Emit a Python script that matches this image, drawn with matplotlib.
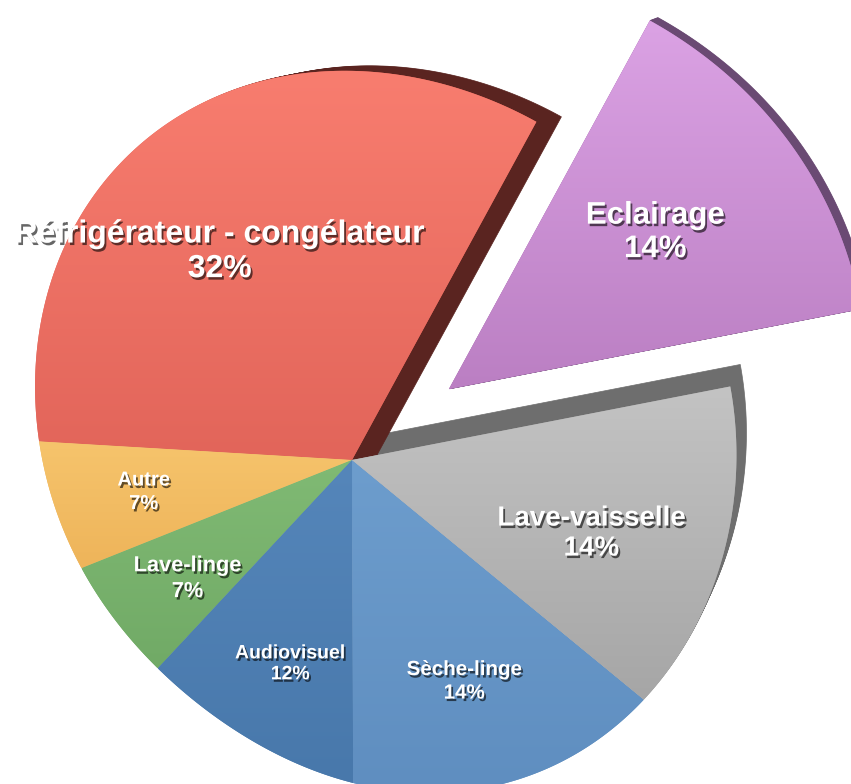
import numpy as np
import matplotlib.pyplot as plt
import matplotlib.patheffects as pe
from matplotlib.patches import Polygon
from matplotlib.colors import LinearSegmentedColormap

# Consommation électrique des appareils ménagers (camembert façon Keynote 3D)

labels = ['Eclairage', 'Réfrigérateur - congélateur', 'Autre', 'Lave-linge',
          'Audiovisuel', 'Sèche-linge', 'Lave-vaisselle']
values = [14, 32, 7, 7, 12, 14, 14]

# style : (couleur haut, couleur bas), côté sombre, décalage de profondeur
face_colors = [('#dba2e4', '#bb7fc3'), ('#f87d6f', '#e2655a'), ('#f6c46c', '#eeb45a'),
               ('#80ba74', '#71aa66'), ('#5586ba', '#4878ab'), ('#6d9dcd', '#5f8ec0'),
               ('#c3c3c3', '#a6a6a6')]
side_colors = ['#6a4a73', '#5a2420', None, None, None, None, '#6e6e6e']
depth = [(8, 3), (25, 5), None, None, None, None, (10, 22)]
explode = [120, 0, 0, 0, 0, 0, 0]
label_dist = [262, 246, 211, 203, 213, 245, 251]
label_shift = [(-5, -2), (-13, 7), (0, -2), (3, 4), (16, 6), (7, 0), (-4, 12)]
label_size = [22.5, 23, 14.5, 15.7, 14, 14.8, 20]
label_spacing = [1.15, 1.2, 1.3, 1.3, 1.3, 1.3, 1.2]

# géométrie en pixels (perspective approchée par un rayon variable)
cx, cy = 352, 460
start = 11
ctrl_ang = np.array([10, 66, 80, 108, 125, 141, 158, 166, 174, 184, 193, 200, 208,
                     229, 248, 275, 292, 309, 321, 334, 345, 355])
ctrl_r = np.array([385, 384, 390, 386, 380, 364, 337, 323, 315, 310, 300, 290, 287,
                   284, 298, 329, 351, 377, 375, 378, 386, 384])

# contour lissé : série de Fourier ajustée sur les rayons relevés
n_harm = 5


def basis(th):
    t = np.radians(np.atleast_1d(th))
    cols = [np.ones_like(t)]
    for k in range(1, n_harm + 1):
        cols += [np.cos(k * t), np.sin(k * t)]
    return np.column_stack(cols)


coef = np.linalg.lstsq(basis(ctrl_ang), ctrl_r, rcond=None)[0]


def radius(th):
    return basis(th) @ coef


def wedge_verts(t1, t2, apex, scale):
    th = np.linspace(t1, t2, 150)
    r = radius(th) * scale
    xs = apex[0] + r * np.cos(np.radians(th))
    ys = apex[1] - r * np.sin(np.radians(th))
    return np.vstack([[apex], np.column_stack([xs, ys])])


fig = plt.figure(figsize=(8.51, 7.84), dpi=100)
ax = fig.add_axes([0, 0, 1, 1])

angles = start + np.concatenate([[0], np.cumsum(values)]) * 3.6
faces = []
for i in range(len(values)):
    t1, t2 = angles[i], angles[i + 1]
    mid = np.radians((t1 + t2) / 2)
    apex = (cx + explode[i] * np.cos(mid), cy - explode[i] * np.sin(mid))
    scale = 1.09 if explode[i] else 1.0
    faces.append((wedge_verts(t1, t2, apex, scale), apex, mid))

# côtés sombres (extrusion)
for i in [6, 0, 1]:
    verts = faces[i][0]
    dx, dy = depth[i]
    for t in np.linspace(0.1, 1, 14):
        shifted = verts + np.array([dx * t, -dy * t])
        ax.add_patch(Polygon(shifted, closed=True, facecolor=side_colors[i],
                             edgecolor=side_colors[i], lw=0.5, zorder=1))

# faces avec léger dégradé vertical
grad = np.linspace(0, 1, 200).reshape(-1, 1)
for i, (verts, apex, mid) in enumerate(faces):
    top, bot = face_colors[i]
    poly = Polygon(verts, closed=True, facecolor=bot, edgecolor='none', zorder=2)
    ax.add_patch(poly)
    cmap = LinearSegmentedColormap.from_list('f%d' % i, [top, bot])
    im = ax.imshow(grad, cmap=cmap, aspect='auto', interpolation='bilinear',
                   extent=[verts[:, 0].min(), verts[:, 0].max(),
                           verts[:, 1].max(), verts[:, 1].min()], zorder=2.1)
    im.set_clip_path(poly)

# étiquettes
shadow = [pe.withSimplePatchShadow(offset=(1.3, -1.8), shadow_rgbFace='black', alpha=0.6)]
for i, (verts, apex, mid) in enumerate(faces):
    x = apex[0] + label_dist[i] * np.cos(mid) + label_shift[i][0]
    y = apex[1] - label_dist[i] * np.sin(mid) + label_shift[i][1]
    ax.text(x, y, '%s\n%d%%' % (labels[i], values[i]), ha='center', va='center',
            color='white', fontsize=label_size[i], fontweight='bold',
            family=['Liberation Sans', 'DejaVu Sans'], linespacing=label_spacing[i],
            path_effects=shadow, zorder=5)

ax.set_xlim(0, 851)
ax.set_ylim(784, 0)
ax.axis('off')
fig.savefig('out.png', dpi=100, facecolor='white')
